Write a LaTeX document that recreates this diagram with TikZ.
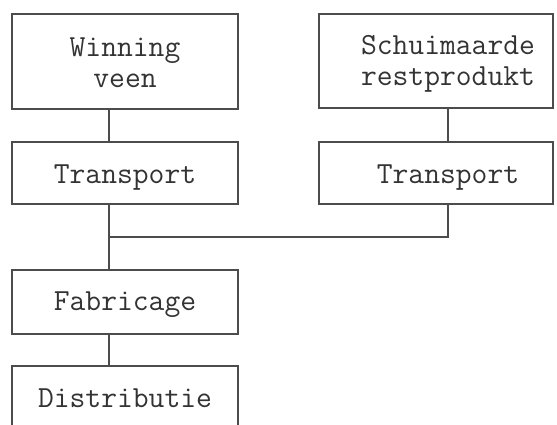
\documentclass[tikz,border=0pt]{standalone}
\begin{document}
\begin{tikzpicture}[x=1pt,y=-1pt,
  box/.style={draw=black!70,line width=1.2pt,rectangle,inner sep=0pt},
  lbl/.style={text=black!80,font=\fontsize{30.7}{31}\selectfont\ttfamily,inner sep=0pt,align=center},
  conn/.style={draw=black!70,line width=1.1pt}]
\useasboundingbox (0,0) rectangle (557,424);
\clip (0,0) rectangle (557,424);
% boxes
\node[box,minimum width=226pt,minimum height=95pt] (win) at (125,61.5) {};
\node[box,minimum width=226pt,minimum height=62pt] (tr1) at (125,173) {};
\node[box,minimum width=226pt,minimum height=64pt] (fab) at (125,302) {};
\node[box,minimum width=226pt,minimum height=64pt] (dis) at (125,398) {};
\node[box,minimum width=234pt,minimum height=94pt] (sch) at (436,61) {};
\node[box,minimum width=234pt,minimum height=62pt] (tr2) at (436,173) {};
% texts
\node[lbl,anchor=center] (winT) at (125,63) {Winning\\veen};
\node[lbl,anchor=center] (schT) at (448,64) {Schuimaarde\\restprodukt};
\node[lbl,anchor=base] (tr1T) at (125,183) {Transport};
\node[lbl,anchor=base] (tr2T) at (448,183) {Transport};
\node[lbl,anchor=base] (fabT) at (125,310) {Fabricage};
\node[lbl,anchor=base] (disT) at (125,407) {Distributie};
% connectors
\coordinate (lx) at (109,0);
\coordinate (rx) at (448,0);
\coordinate (j) at (109,237);
\draw[conn] (win.south -| lx) -- (tr1.north -| lx);
\draw[conn] (sch.south -| rx) -- (tr2.north -| rx);
\draw[conn] (tr1.south -| lx) -- (fab.north -| lx);
\draw[conn] (tr2.south -| rx) |- (j);
\draw[conn] (fab.south -| lx) -- (dis.north -| lx);
\end{tikzpicture}
\end{document}
